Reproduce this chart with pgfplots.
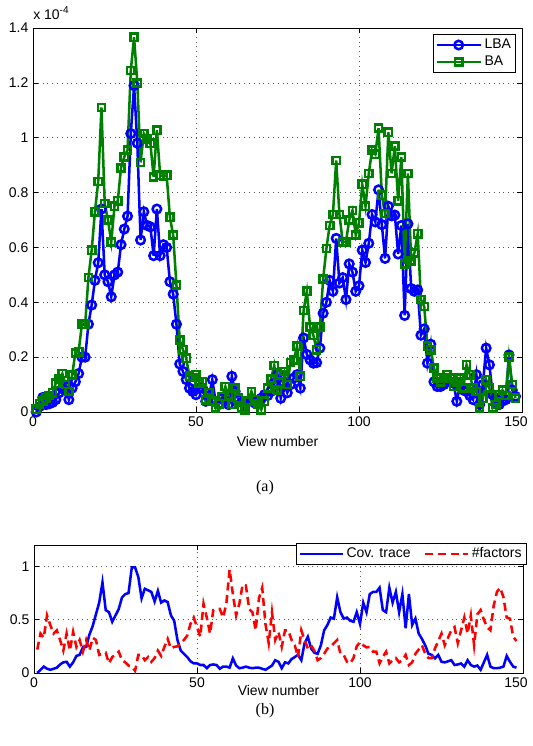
\documentclass[border=0pt]{standalone}
\usepackage{pgfplots}
\pgfplotsset{compat=1.18}
\usepackage{pgfplotstable}
\usepackage{fontspec}
\setmainfont{Liberation Sans}
\newfontfamily\capfont{Liberation Serif}

\definecolor{mblue}{rgb}{0,0,1}
\definecolor{mgreen}{rgb}{0,0.5,0}
\definecolor{mred}{rgb}{1,0,0}

\pgfplotstableread{
x lba ba
1 0.00 0.01
2 0.02 0.03
3 0.053 0.04
4 0.027 0.05
5 0.03 0.06
6 0.035 0.07
7 0.045 0.105
8 0.07 0.12
9 0.085 0.14
10 0.093 0.10
11 0.045 0.075
12 0.087 0.135
13 0.11 0.215
14 0.14 0.22
15 0.20 0.32
16 0.20 0.32
17 0.32 0.49
18 0.39 0.59
19 0.48 0.73
20 0.544 0.84
21 0.74 1.11
22 0.50 0.76
23 0.475 0.70
24 0.42 0.62
25 0.50 0.75
26 0.51 0.77
27 0.61 0.89
28 0.667 0.93
29 0.714 0.955
30 1.015 1.245
31 1.19 1.366
32 0.98 1.2
33 0.627 0.91
34 0.73 1.015
35 0.68 0.996
36 0.675 0.98
37 0.57 0.857
38 0.74 1.027
39 0.57 0.863
40 0.61 0.86
41 0.60 0.863
42 0.475 0.71
43 0.43 0.645
44 0.32 0.463
45 0.175 0.263
46 0.148 0.227
47 0.118 0.196
48 0.087 0.13
49 0.075 0.126
50 0.063 0.136
51 0.087 0.105
52 0.087 0.11
53 0.039 0.045
54 0.06 0.07
55 0.118 0.039
56 0.039 0.015
57 0.027 0.03
58 0.05 0.057
59 0.04 0.093
60 0.027 0.06
61 0.13 0.027
62 0.075 0.087
63 0.045 0.05
64 0.035 0.015
65 0.027 0.008
66 0.039 0.04
67 0.045 0.075
68 0.033 0.045
69 0.04 0.03
70 0.05 0.008
71 0.063 0.039
72 0.06 0.087
73 0.075 0.12
74 0.105 0.17
75 0.136 0.08
76 0.05 0.136
77 0.105 0.148
78 0.07 0.10
79 0.10 0.18
80 0.124 0.19
81 0.136 0.24
82 0.087 0.13
83 0.27 0.37
84 0.21 0.44
85 0.19 0.31
86 0.178 0.28
87 0.18 0.227
88 0.233 0.31
89 0.36 0.485
90 0.40 0.596
91 0.48 0.68
92 0.44 0.72
93 0.633 0.917
94 0.47 0.72
95 0.49 0.62
96 0.41 0.62
97 0.54 0.70
98 0.51 0.735
99 0.44 0.645
100 0.46 0.69
101 0.59 0.83
102 0.545 0.75
103 0.615 0.87
104 0.72 0.955
105 0.693 0.94
106 0.81 1.035
107 0.683 0.79
108 0.56 0.724
109 0.75 1.02
110 0.715 0.87
111 0.718 0.97
112 0.576 0.77
113 0.68 0.93
114 0.352 0.54
115 0.686 0.87
116 0.45 0.55
117 0.44 0.58
118 0.445 0.65
119 0.28 0.41
120 0.303 0.385
121 0.178 0.24
122 0.247 0.227
123 0.11 0.16
124 0.093 0.124
125 0.093 0.11
126 0.10 0.124
127 0.118 0.136
128 0.11 0.124
129 0.105 0.093
130 0.039 0.11
131 0.10 0.124
132 0.08 0.087
133 0.075 0.172
134 0.06 0.136
135 0.045 0.087
136 0.136 0.075
137 0.027 0.015
138 0.10 0.05
139 0.233 0.118
140 0.172 0.087
141 0.063 0.015
142 0.05 0.027
143 0.027 0.063
144 0.04 0.08
145 0.045 0.06
146 0.208 0.2
147 0.08 0.1
148 0.057 0.05
}\topdata

\pgfplotstableread{
x cov fac
1 0.0 0.22
2 0.03 0.37
3 0.06 0.33
4 0.04 0.54
5 0.03 0.45
6 0.04 0.37
7 0.05 0.40
8 0.08 0.31
9 0.10 0.21
10 0.105 0.37
11 0.06 0.21
12 0.10 0.385
13 0.16 0.245
14 0.17 0.31
15 0.24 0.20
16 0.245 0.31
17 0.36 0.21
18 0.44 0.33
19 0.55 0.31
20 0.66 0.17
21 0.85 0.18
22 0.59 0.19
23 0.57 0.09
24 0.48 0.15
25 0.54 0.17
26 0.60 0.20
27 0.71 0.12
28 0.74 0.10
29 0.75 0.07
30 0.99 0.06
31 0.99 0.02
32 0.90 0.17
33 0.70 0.17
34 0.79 0.12
35 0.775 0.15
36 0.76 0.105
37 0.67 0.14
38 0.77 0.21
39 0.66 0.16
40 0.68 0.245
41 0.665 0.32
42 0.54 0.23
43 0.49 0.245
44 0.31 0.25
45 0.21 0.28
46 0.18 0.31
47 0.15 0.35
48 0.11 0.46
49 0.09 0.52
50 0.09 0.43
51 0.075 0.34
52 0.075 0.65
53 0.045 0.52
54 0.075 0.37
55 0.08 0.59
56 0.075 0.60
57 0.04 0.60
58 0.06 0.52
59 0.06 0.65
60 0.05 0.97
61 0.137 0.74
62 0.07 0.54
63 0.045 0.65
64 0.05 0.83
65 0.06 0.82
66 0.05 0.60
67 0.045 0.57
68 0.05 0.40
69 0.05 0.70
70 0.04 0.80
71 0.03 0.46
72 0.05 0.28
73 0.07 0.57
74 0.12 0.31
75 0.105 0.385
76 0.045 0.245
77 0.10 0.40
78 0.09 0.40
79 0.13 0.31
80 0.15 0.26
81 0.17 0.15
82 0.12 0.40
83 0.28 0.31
84 0.34 0.23
85 0.23 0.26
86 0.19 0.21
87 0.18 0.12
88 0.26 0.14
89 0.40 0.18
90 0.45 0.23
91 0.52 0.245
92 0.51 0.28
93 0.71 0.31
94 0.57 0.18
95 0.51 0.17
96 0.52 0.105
97 0.49 0.09
98 0.48 0.14
99 0.57 0.25
100 0.46 0.29
101 0.66 0.26
102 0.57 0.24
103 0.74 0.245
104 0.76 0.20
105 0.76 0.20
106 0.80 0.09
107 0.59 0.15
108 0.57 0.20
109 0.80 0.09
110 0.66 0.12
111 0.76 0.14
112 0.57 0.10
113 0.74 0.12
114 0.42 0.17
115 0.74 0.075
116 0.45 0.10
117 0.51 0.18
118 0.37 0.22
119 0.32 0.26
120 0.26 0.18
121 0.18 0.14
122 0.17 0.14
123 0.137 0.23
124 0.17 0.30
125 0.105 0.37
126 0.10 0.26
127 0.11 0.33
128 0.12 0.40
129 0.075 0.43
130 0.08 0.28
131 0.09 0.40
132 0.06 0.52
133 0.12 0.37
134 0.075 0.54
135 0.06 0.26
136 0.07 0.55
137 0.03 0.59
138 0.10 0.50
139 0.17 0.43
140 0.06 0.40
141 0.045 0.63
142 0.045 0.76
143 0.05 0.80
144 0.06 0.71
145 0.16 0.52
146 0.105 0.51
147 0.06 0.34
148 0.05 0.30
}\botdata

\pgfplotsset{
 mystyle/.style={
  scale only axis, width=366.75pt,
  axis line style={line width=0.6pt},
  tick align=inside, major tick length=4pt,
  tick style={black, line width=0.5pt},
  grid=major, grid style={black!65, line width=0.5pt, dash pattern=on 0.6pt off 3pt},
  /pgf/number format/assume math mode=true,
  tick label style={font=\fontsize{10.5}{12}\selectfont},
  label style={font=\fontsize{10.5}{12}\selectfont},
  xmin=0, xmax=150, xtick={0,50,100,150},
  xlabel={View number},
  legend style={font=\fontsize{10.5}{12}\selectfont, draw=black, line width=0.6pt, fill=white, inner sep=1.5pt},
  legend cell align=left,
 }
}

\begin{document}
\begin{tikzpicture}
\path[use as bounding box] (0,0) rectangle (399pt,-559.5pt);
\begin{axis}[mystyle, at={(24.75pt,-21pt)}, anchor=north west, height=288pt,
  ymin=0, ymax=1.4, ytick={0,0.2,0.4,0.6,0.8,1,1.2,1.4}, clip=false,
  xticklabels={0,50,100,{150\hspace*{9pt}}},
  xlabel style={at={(axis description cs:0.5,0)}, anchor=center, yshift=-21.75pt},
  legend style={at={(0.988,0.984)}, anchor=north east},
  legend image code/.code={\draw[mark repeat=2,mark phase=2] plot coordinates {(0pt,0pt) (16.5pt,0pt) (33pt,0pt)};},
]
\addplot[mblue, line width=1.9pt, mark=o, mark size=3.2pt] table[x=x,y=lba] {\topdata};
\addlegendentry{LBA}
\addplot[mgreen, line width=1.9pt, mark=square, mark size=2.7pt] table[x=x,y=ba] {\topdata};
\addlegendentry{BA}
\end{axis}
\node[anchor=base west, font=\fontsize{10.5}{12}\selectfont, inner sep=0pt] at (24.75pt,-14.25pt) {x 10\raisebox{4pt}{\fontsize{7.5}{8}\selectfont -4}};
\node[font=\capfont\fontsize{12}{14}\selectfont] at (198.75pt,-366pt) {(a)};

\begin{axis}[mystyle, at={(25.5pt,-408.75pt)}, anchor=north west, height=96pt,
  ymin=0, ymax=1.2, ytick={0,0.5,1},
  xticklabels={0,50,100,{150\hspace*{10.5pt}}},
  xlabel style={at={(axis description cs:0.5,0)}, anchor=center, yshift=-12.75pt},
  legend columns=2,
  legend style={at={(1.0075,1.018)}, anchor=north east, /tikz/every even column/.append style={column sep=8pt}},
  legend image code/.code={\draw (0pt,0pt) -- (32pt,0pt);},
]
\addplot[mblue, line width=1.9pt] table[x=x,y=cov] {\botdata};
\addlegendentry{Cov. trace}
\addplot[mred, line width=1.9pt, dash pattern=on 6pt off 3.5pt] table[x=x,y=fac] {\botdata};
\addlegendentry{\#factors}
\end{axis}
\node[font=\capfont\fontsize{12}{14}\selectfont] at (198.75pt,-533.25pt) {(b)};
\end{tikzpicture}
\end{document}
